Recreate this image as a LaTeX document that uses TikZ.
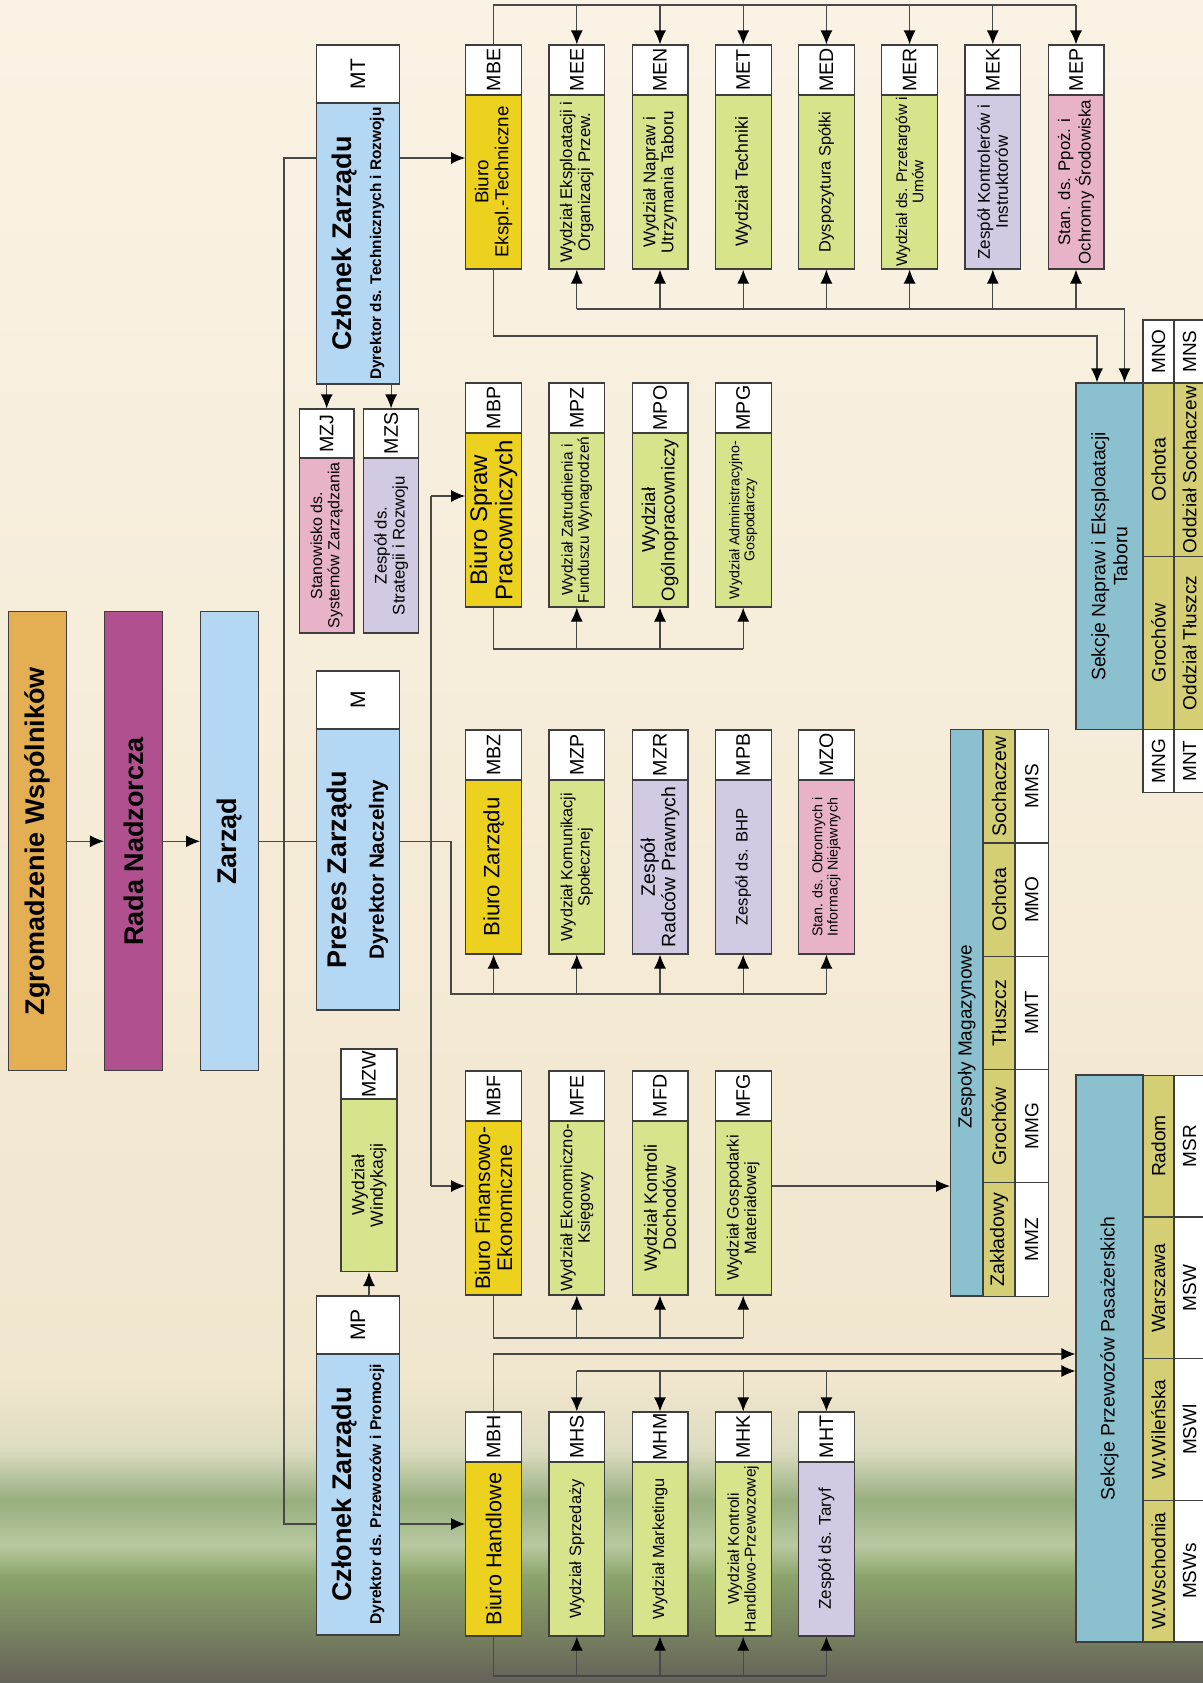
\documentclass[tikz,border=0pt]{standalone}
\usepackage{fontspec}
\setmainfont{Liberation Sans}
\usetikzlibrary{arrows.meta}

\definecolor{organOrange}{HTML}{E4AE52}
\definecolor{organPlum}{HTML}{B0508E}
\definecolor{boardBlue}{HTML}{B4D7F4}
\definecolor{officeYellow}{HTML}{ECD21F}
\definecolor{deptGreen}{HTML}{D7E48C}
\definecolor{teamLilac}{HTML}{D1CAE2}
\definecolor{postPink}{HTML}{E8B2C9}
\definecolor{sectTeal}{HTML}{8BC1CF}
\definecolor{siteOlive}{HTML}{D4CF75}
\definecolor{edgeGray}{HTML}{3E3E3E}
\definecolor{linkGray}{HTML}{484848}
\definecolor{bgTop}{HTML}{FAF3E5}
\definecolor{bgMid}{HTML}{F1E6CE}
\definecolor{bgHaze}{HTML}{DCDCC0}
\definecolor{bgGreen}{HTML}{97AE7E}
\definecolor{bgBand}{HTML}{B9C9A0}
\definecolor{bgDeep}{HTML}{8CA56C}
\definecolor{bgDark}{HTML}{747C5E}
\definecolor{bgBottom}{HTML}{66625A}

\newcommand{\fs}[2]{\fontsize{#1}{#2}\selectfont}

\begin{document}
\begin{tikzpicture}[x=0.5pt,y=-0.5pt,
    box/.style={draw=edgeGray, line width=0.6pt, rotate=90, align=center,
      inner sep=0.5pt, text=black},
    code/.style={box, fill=white, minimum width=25pt, minimum height=27.9pt,
      font=\fs{9.8}{10}},
    unit/.style={box, minimum width=87pt, minimum height=27.9pt},
    office/.style={unit, fill=officeYellow},
    dept/.style={unit, fill=deptGreen},
    team/.style={unit, fill=teamLilac},
    post/.style={unit, fill=postPink},
    bigcode/.style={box, fill=white, minimum width=29pt, minimum height=41.4pt,
      font=\fs{10.5}{11}},
    board/.style={box, fill=boardBlue, minimum width=140.5pt, minimum height=41.4pt},
    organ/.style={box, minimum width=229.6pt, minimum height=29pt,
      font=\fs{13.5}{15}\bfseries},
    sect/.style={box, fill=sectTeal, minimum height=33.5pt, font=\fs{9.7}{11}},
    site/.style={box, fill=siteOlive, minimum height=15.5pt, font=\fs{9.8}{10}},
    sitecode/.style={box, fill=white, minimum height=15.5pt, font=\fs{9.5}{10}},
    link/.style={draw=linkGray, line width=0.6pt},
    arr/.style={link, -{Latex[length=7pt,width=6pt,color=black]}}
  ]
  \useasboundingbox (0,0) rectangle (1203,1683);

  % background
  \shade[top color=bgTop, bottom color=bgMid] (0,0) rectangle (1203,1381);
  \shade[top color=bgMid, bottom color=bgHaze] (0,1380) rectangle (1203,1451);
  \shade[top color=bgHaze, bottom color=bgGreen] (0,1450) rectangle (1203,1501);
  \shade[top color=bgGreen, bottom color=bgBand] (0,1500) rectangle (1203,1546);
  \shade[top color=bgBand, bottom color=bgDeep] (0,1545) rectangle (1203,1576);
  \shade[top color=bgDeep, bottom color=bgDark] (0,1575) rectangle (1203,1641);
  \shade[top color=bgDark, bottom color=bgBottom] (0,1640) rectangle (1203,1683);

  % bus lines
  \coordinate (b1t) at (0,5);
  \coordinate (b1b) at (0,309);
  \coordinate (b1e) at (0,336);
  \coordinate (b2b) at (0,649);
  \coordinate (b3b) at (0,994);
  \coordinate (b4b) at (0,1338);
  \coordinate (b5t) at (0,1354);
  \coordinate (b5s) at (0,1371);
  \coordinate (b5b) at (0,1676);
  \coordinate (tT) at (0,158);
  \coordinate (tB) at (0,1524);
  \coordinate (pa) at (0,496);
  \coordinate (pb) at (0,1186);
  \coordinate (trunk) at (284,0);
  \coordinate (pv) at (431,0);
  \coordinate (ph) at (451,0);
  \coordinate (sn1) at (1097,0);
  \coordinate (sn2) at (1124.5,0);

  % Nodes
  \node[organ, fill=organOrange] (ZW) at (37.5,841.25) {Zgromadzenie Wspólników};
  \node[organ, fill=organPlum]   (RN) at (133.5,841.25) {Rada Nadzorcza};
  \node[organ, fill=boardBlue]   (ZR) at (229.6,841.25) {Zarząd};

  \node[bigcode] (cCT) at (357.85,74) {MT};
  \node[board, font=\fs{13.5}{15}\bfseries] (CT) at (357.85,243.5)
    {Członek Zarządu\\{\fs{7.7}{9}Dyrektor ds. Technicznych i Rozwoju}};
  \node[bigcode] (cPZ) at (357.85,700) {M};
  \node[board, font=\fs{13.5}{18.5}\bfseries] (PZ) at (357.85,869.5)
    {Prezes Zarządu\\{\fs{10.3}{11}Dyrektor Naczelny}};
  \node[bigcode] (cCB) at (357.85,1325) {MP};
  \node[board, font=\fs{13.5}{15}\bfseries] (CB) at (357.85,1494.5)
    {Członek Zarządu\\{\fs{7.8}{9}Dyrektor ds. Przewozów i Promocji}};

  \node[code, minimum width=24.5pt, minimum height=27.3pt] (cMZJ) at (326.7,433.5) {MZJ};
  \node[post, minimum width=87.5pt, minimum height=27.3pt, font=\fs{8}{8.6}] (MZJ) at (326.7,545.5)
    {Stanowisko ds.\\Systemów Zarządzania};
  \node[code, minimum width=24.5pt, minimum height=27.3pt] (cMZS) at (391.1,433.5) {MZS};
  \node[team, minimum width=87.5pt, minimum height=27.3pt, font=\fs{8.4}{9}] (MZS) at (391.1,545.5)
    {Zespół ds.\\Strategii i Rozwoju};
  \node[code, minimum height=28pt] (cMZW) at (369,1074) {MZW};
  \node[dept, minimum width=86.25pt, minimum height=28pt, font=\fs{8.8}{9.3}] (MZW) at (369,1185.25)
    {Wydział\\Windykacji};

  % row 1
  \node[code] (cMBE) at (493.6,70) {MBE};
  \node[office, font=\fs{9.4}{10}] (MBE) at (493.6,182) {Biuro\\Ekspl.-Techniczne};
  \node[code] (cMEE) at (576.8,70) {MEE};
  \node[dept, font=\fs{8.4}{8.9}] (MEE) at (576.8,182) {Wydział Eksploatacji i\\Organizacji Przew.};
  \node[code] (cMEN) at (660,70) {MEN};
  \node[dept, font=\fs{8.5}{9}] (MEN) at (660,182) {Wydział Napraw i\\Utrzymania Taboru};
  \node[code] (cMET) at (743.2,70) {MET};
  \node[dept, font=\fs{8.8}{9.3}] (MET) at (743.2,182) {Wydział Techniki};
  \node[code] (cMED) at (826.4,70) {MED};
  \node[dept, font=\fs{8.2}{8.7}] (MED) at (826.4,182) {Dyspozytura Spółki};
  \node[code] (cMER) at (909.6,70) {MER};
  \node[dept, font=\fs{7.7}{8.2}] (MER) at (909.6,182) {Wydział ds. Przetargów i\\Umów};
  \node[code] (cMEK) at (992.8,70) {MEK};
  \node[team, font=\fs{8.5}{9}] (MEK) at (992.8,182) {Zespół Kontrolerów i\\Instruktorów};
  \node[code] (cMEP) at (1076,70) {MEP};
  \node[post, font=\fs{8.4}{8.9}] (MEP) at (1076,182) {Stan. ds. Ppoż. i\\Ochronny Środowiska};

  % row 2
  \node[code] (cMBP) at (493.6,408) {MBP};
  \node[office, font=\fs{12}{12.6}] (MBP) at (493.6,520) {Biuro Spraw\\Pracowniczych};
  \node[code] (cMPZ) at (576.8,408) {MPZ};
  \node[dept, font=\fs{7.7}{8.2}] (MPZ) at (576.8,520) {Wydział Zatrudnienia i\\Funduszu Wynagrodzeń};
  \node[code] (cMPO) at (660,408) {MPO};
  \node[dept, font=\fs{9.3}{9.8}] (MPO) at (660,520) {Wydział\\Ogólnopracowniczy};
  \node[code] (cMPG) at (743.2,408) {MPG};
  \node[dept, font=\fs{7.1}{7.6}] (MPG) at (743.2,520) {Wydział Administracyjno-\\Gospodarczy};

  % row 3
  \node[code] (cMBZ) at (493.6,755) {MBZ};
  \node[office, font=\fs{11.1}{11.7}] (MBZ) at (493.6,867) {Biuro Zarządu};
  \node[code] (cMZP) at (576.8,755) {MZP};
  \node[dept, font=\fs{8.1}{8.6}] (MZP) at (576.8,867) {Wydział Komunikacji\\Społecznej};
  \node[code] (cMZR) at (660,755) {MZR};
  \node[team, font=\fs{9.7}{10.2}] (MZR) at (660,867) {Zespół\\Radców Prawnych};
  \node[code] (cMPB) at (743.2,755) {MPB};
  \node[team, font=\fs{8.3}{8.8}] (MPB) at (743.2,867) {Zespół ds. BHP};
  \node[code] (cMZO) at (826.4,755) {MZO};
  \node[post, font=\fs{7.1}{7.6}] (MZO) at (826.4,867) {Stan. ds. Obronnych i\\Informacji Niejawnych};

  % row 4
  \node[code] (cMBF) at (493.6,1096) {MBF};
  \node[office, font=\fs{10.5}{11}] (MBF) at (493.6,1208) {Biuro Finansowo-\\Ekonomiczne};
  \node[code] (cMFE) at (576.8,1096) {MFE};
  \node[dept, font=\fs{8.3}{8.8}] (MFE) at (576.8,1208) {Wydział Ekonomiczno-\\Księgowy};
  \node[code] (cMFD) at (660,1096) {MFD};
  \node[dept, font=\fs{8.9}{9.4}] (MFD) at (660,1208) {Wydział Kontroli\\Dochodów};
  \node[code] (cMFG) at (743.2,1096) {MFG};
  \node[dept, font=\fs{8.2}{8.7}] (MFG) at (743.2,1208) {Wydział Gospodarki\\Materiałowej};

  % row 5
  \node[code] (cMBH) at (493.6,1437) {MBH};
  \node[office, font=\fs{10.8}{11.3}] (MBH) at (493.6,1549) {Biuro Handlowe};
  \node[code] (cMHS) at (576.8,1437) {MHS};
  \node[dept, font=\fs{8.2}{8.7}] (MHS) at (576.8,1549) {Wydział Sprzedaży};
  \node[code] (cMHM) at (660,1437) {MHM};
  \node[dept, font=\fs{8.1}{8.6}] (MHM) at (660,1549) {Wydział Marketingu};
  \node[code] (cMHK) at (743.2,1437) {MHK};
  \node[dept, font=\fs{7.8}{8.3}] (MHK) at (743.2,1549) {Wydział Kontroli\\Handlowo-Przewozowej};
  \node[code] (cMHT) at (826.4,1437) {MHT};
  \node[team, font=\fs{8.5}{9}] (MHT) at (826.4,1549) {Zespół ds. Taryf};

  % warehouse teams
  \node[sect, minimum width=283.2pt, minimum height=16.2pt, font=\fs{9.5}{10}] (ZM) at (966.8,1012.8)
    {Zespoły Magazynowe\hspace*{24pt}};
  \node[site, minimum width=56.65pt, minimum height=16pt] (zmS) at (999,786.3) {Sochaczew};
  \node[site, minimum width=56.65pt, minimum height=16pt] (zmO) at (999,899.6) {Ochota};
  \node[site, minimum width=56.65pt, minimum height=16pt] (zmT) at (999,1012.9) {Tłuszcz};
  \node[site, minimum width=56.65pt, minimum height=16pt] (zmG) at (999,1126.2) {Grochów};
  \node[site, minimum width=56.65pt, minimum height=16pt] (zmZ) at (999,1239.5) {Zakładowy};
  \node[sitecode, minimum width=56.65pt, minimum height=16.6pt] (MMS) at (1031.7,786.3) {MMS};
  \node[sitecode, minimum width=56.65pt, minimum height=16.6pt] (MMO) at (1031.7,899.6) {MMO};
  \node[sitecode, minimum width=56.65pt, minimum height=16.6pt] (MMT) at (1031.7,1012.9) {MMT};
  \node[sitecode, minimum width=56.65pt, minimum height=16.6pt] (MMG) at (1031.7,1126.2) {MMG};
  \node[sitecode, minimum width=56.65pt, minimum height=16.6pt] (MMZ) at (1031.7,1239.5) {MMZ};

  % repair sections
  \node[sect, minimum width=173.3pt] (SN) at (1109.5,556.3) {Sekcje Napraw i Eksploatacji\\Taboru};
  \node[site, minimum width=86.65pt] (snO) at (1158.5,469.6) {Ochota};
  \node[site, minimum width=86.65pt] (snG) at (1158.5,643) {Grochów};
  \node[site, minimum width=86.65pt, font=\fs{9.5}{10}] (snS) at (1189.5,469.6) {Oddział Sochaczew};
  \node[site, minimum width=86.65pt, font=\fs{9.5}{10}] (snT) at (1189.5,643) {Oddział Tłuszcz};
  \node[sitecode, minimum width=31.5pt] (MNO) at (1158.5,351.5) {MNO};
  \node[sitecode, minimum width=31.5pt] (MNS) at (1189.5,351.5) {MNS};
  \node[sitecode, minimum width=31.5pt] (MNG) at (1158.5,761) {MNG};
  \node[sitecode, minimum width=31.5pt] (MNT) at (1189.5,761) {MNT};

  % passenger sections
  \node[sect, minimum width=283.5pt] (SP) at (1109.5,1358.5) {Sekcje Przewozów Pasażerskich};
  \node[site, minimum width=70.9pt, font=\fs{9.6}{10}] (spR) at (1158.5,1146) {Radom};
  \node[site, minimum width=70.9pt, font=\fs{9.6}{10}] (spW) at (1158.5,1288) {Warszawa};
  \node[site, minimum width=70.9pt, font=\fs{9.6}{10}] (spL) at (1158.5,1429.5) {W.Wileńska};
  \node[site, minimum width=70.9pt, font=\fs{9.6}{10}] (spS) at (1158.5,1571) {W.Wschodnia};
  \node[sitecode, minimum width=70.9pt] (MSR) at (1189.5,1146) {MSR};
  \node[sitecode, minimum width=70.9pt] (MSW) at (1189.5,1288) {MSW};
  \node[sitecode, minimum width=70.9pt] (MSWl) at (1189.5,1429.5) {MSWl};
  \node[sitecode, minimum width=70.9pt] (MSWs) at (1189.5,1571) {MSWs};

  % Edges
  \draw[arr] (ZW.south) -- (RN.north);
  \draw[arr] (RN.south) -- (ZR.north);
  \draw[link] (ZR.south) -- (PZ.north |- ZR);
  \draw[link] (CT.north |- tT) -| (trunk |- tB) -- (CB.north |- tB);
  \draw[arr] (CT.south |- tT) -- (MBE.north |- tT);
  \draw[arr] (CB.south |- tB) -- (MBH.north |- tB);
  \draw[arr] (CT.west -| cMZJ) -- (cMZJ.east);
  \draw[arr] (CT.west -| cMZS) -- (cMZS.east);
  \draw[arr] (cCB.east -| MZW) -- (MZW.west);

  % technical
  \draw[link] (cMBE.east) |- (cMEP.east |- b1t);
  \foreach \u in {MEE,MEN,MET,MED,MER,MEK,MEP}
    \draw[arr] (c\u.east |- b1t) -- (c\u.east);
  \draw[link] (MEE.west |- b1b) -- (sn2 |- b1b);
  \foreach \u in {MEE,MEN,MET,MED,MER,MEK,MEP}
    \draw[arr] (\u.west |- b1b) -- (\u.west);
  \draw[arr] (sn2 |- b1b) -- (sn2 |- SN.east);
  \draw[arr] (MBE.west) |- (sn1 |- b1e) -- (sn1 |- SN.east);

  % president
  \draw[link] (PZ.south |- ZR) -| (ph |- b3b) -- (MZO.west |- b3b);
  \foreach \u in {MBZ,MZP,MZR,MPB,MZO}
    \draw[arr] (\u.west |- b3b) -- (\u.west);
  \draw[link] (pv |- pa) -- (pv |- pb);
  \draw[arr] (pv |- pa) -- (MBP.north |- pa);
  \draw[arr] (pv |- pb) -- (MBF.north |- pb);
  \draw[link] (MBP.west) |- (MPG.west |- b2b);
  \foreach \u in {MPZ,MPO,MPG}
    \draw[arr] (\u.west |- b2b) -- (\u.west);
  \draw[link] (MBF.west) |- (MFG.west |- b4b);
  \foreach \u in {MFE,MFD,MFG}
    \draw[arr] (\u.west |- b4b) -- (\u.west);
  \draw[arr] (MFG.south |- pb) -- (ZM.north |- pb);

  % traffic
  \draw[arr] (cMBH.east) |- (SP.north |- b5t);
  \draw[arr] (cMHS.east |- b5s) -- (SP.north |- b5s);
  \foreach \u in {MHS,MHM,MHK,MHT}
    \draw[arr] (c\u.east |- b5s) -- (c\u.east);
  \draw[link] (MBH.west) |- (MHT.west |- b5b);
  \foreach \u in {MHS,MHM,MHK,MHT}
    \draw[arr] (\u.west |- b5b) -- (\u.west);
\end{tikzpicture}
\end{document}
